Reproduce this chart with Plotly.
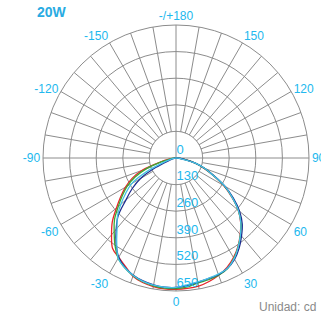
import plotly.graph_objects as go

# Angles in degrees (0 = down, positive toward right side)
angles = [-90, -85, -80, -75, -70, -65, -60, -55, -50, -45, -40, -35, -30, -25, -20, -15, -10, -5,
          0, 5, 10, 15, 20, 25, 30, 35, 40, 45, 50, 55, 60, 65, 70, 75, 80, 85, 90]

red = [0, 15, 35, 85, 178, 238, 285, 330, 380, 440, 490, 540, 560, 585, 615, 630, 638, 642,
       642, 640, 636, 625, 610, 590, 562, 528, 488, 447, 397, 333, 268, 198, 145, 95, 42, 12, 0]
green = [0, 12, 30, 75, 155, 222, 275, 320, 368, 425, 470, 520, 565, 592, 612, 626, 634, 638,
         638, 632, 620, 616, 610, 596, 566, 530, 490, 450, 398, 336, 272, 202, 148, 97, 42, 12, 0]
blue = [0, 5, 10, 18, 40, 110, 200, 262, 320, 400, 455, 510, 560, 590, 610, 622, 630, 634,
        633, 626, 616, 610, 607, 595, 572, 538, 498, 458, 406, 342, 276, 205, 150, 98, 45, 14, 0]
cyan = [0, 5, 12, 30, 70, 160, 250, 300, 352, 405, 448, 505, 565, 592, 611, 624, 631, 634,
        632, 622, 615, 609, 604, 595, 568, 530, 490, 448, 398, 335, 275, 200, 150, 98, 30, 10, 0]

series = [("red", red, "#e8262a"), ("green", green, "#3aaa35"),
          ("blue", blue, "#1f2d8f"), ("cyan", cyan, "#45c3e6")]

r_ticks = [0, 130, 260, 390, 520, 650]
ang_tickvals = list(range(0, 360, 10))
ang_labels = {0: "0", 30: "30", 60: "60", 90: "90", 120: "120", 150: "150", 180: "-/+180",
              210: "-150", 240: "-120", 270: "-90", 300: "-60", 330: "-30"}
ang_ticktext = [ang_labels.get(v, "") for v in ang_tickvals]

grid = "#8c8c8c"
label_col = "#22b8ee"

fig = go.Figure()

# inner white disk (hides spokes inside the first ring)
circ_t = list(range(0, 361, 2))
fig.add_trace(go.Scatterpolar(r=[r_ticks[1]] * len(circ_t), theta=circ_t, mode="lines",
                              fill="toself", fillcolor="white", line=dict(color=grid, width=1),
                              hoverinfo="skip", showlegend=False))
# cross lines through the center
for a in [0, 90]:
    fig.add_trace(go.Scatterpolar(r=[r_ticks[1], 0, r_ticks[1]], theta=[a, a, a + 180], mode="lines",
                                  line=dict(color=grid, width=1), hoverinfo="skip", showlegend=False))

for name, vals, col in series:
    theta = [a % 360 for a in angles]
    fig.add_trace(go.Scatterpolar(r=vals, theta=theta, mode="lines", name=name,
                                  line=dict(color=col, width=1.3, shape="spline"),
                                  showlegend=False))

fig.update_layout(
    width=321, height=315,
    margin=dict(l=0, r=0, t=0, b=0),
    paper_bgcolor="white",
    font=dict(family="Liberation Sans, Arial, sans-serif"),
    polar=dict(
        domain=dict(x=[43 / 321, 309 / 321], y=[1 - 291 / 315, 1 - 25 / 315]),
        bgcolor="white",
        angularaxis=dict(rotation=270, direction="counterclockwise",
                         tickmode="array", tickvals=ang_tickvals, ticktext=ang_ticktext,
                         showline=True, linecolor=grid, linewidth=1,
                         gridcolor=grid, gridwidth=1, ticks="",
                         tickfont=dict(color=label_col, size=12), layer="below traces"),
        radialaxis=dict(range=[0, 650], tickmode="array", tickvals=r_ticks,
                        ticktext=[str(v) + "<br>\u00a0" for v in r_ticks], angle=270, tickangle=-90,
                        side="counterclockwise",
                        showline=False, gridcolor=grid, gridwidth=1, ticks="",
                        tickfont=dict(color=label_col, size=13), layer="above traces"),
    ),
    annotations=[
        dict(text="<b>20W</b>", x=35 / 321, y=1 - 12 / 315, xref="paper", yref="paper",
             xanchor="left", yanchor="middle", showarrow=False,
             font=dict(color="#29abe2", size=14)),
        dict(text="Unidad: cd", x=318 / 321, y=8 / 315, xref="paper", yref="paper",
             xanchor="right", yanchor="middle", showarrow=False,
             font=dict(color="#8a8a8a", size=12)),
    ],
)

fig.write_html("out.html", config={"displayModeBar": False},
               post_script="document.body.style.margin='0';document.body.style.overflow='hidden';")
